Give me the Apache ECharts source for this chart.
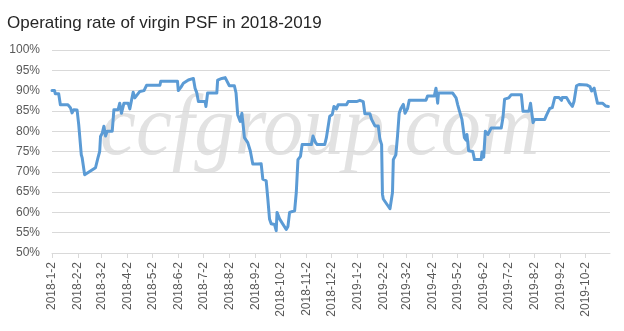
<!DOCTYPE html>
<html>
<head>
<meta charset="utf-8">
<title>Operating rate of virgin PSF in 2018-2019</title>
<script src="https://cdn.jsdelivr.net/npm/echarts@6/dist/echarts.min.js"></script>
<style>
  html, body { margin: 0; padding: 0; background: #ffffff; }
  #chart { width: 624px; height: 331px; }
</style>
</head>
<body>
<div id="chart"></div>
<script>
// Observation dates and operating rate (%) of virgin PSF
const dates = [
  '2018-01-02','2018-01-05','2018-01-06','2018-01-10','2018-01-12','2018-01-21','2018-01-24','2018-01-26','2018-01-28','2018-02-01',
  '2018-02-03','2018-02-06','2018-02-07','2018-02-10','2018-02-23','2018-02-26','2018-02-28','2018-03-01','2018-03-03','2018-03-05',
  '2018-03-07','2018-03-09','2018-03-15','2018-03-17','2018-03-22','2018-03-24','2018-03-26','2018-03-29','2018-04-03','2018-04-05',
  '2018-04-09','2018-04-11','2018-04-17','2018-04-22','2018-04-25','2018-05-11','2018-05-12','2018-06-01','2018-06-02','2018-06-05',
  '2018-06-08','2018-06-14','2018-06-20','2018-06-22','2018-06-24','2018-06-26','2018-07-04','2018-07-05','2018-07-07','2018-07-18',
  '2018-07-19','2018-07-24','2018-07-28','2018-08-02','2018-08-08','2018-08-10','2018-08-12','2018-08-15','2018-08-17','2018-08-19',
  '2018-08-20','2018-08-24','2018-08-27','2018-08-30','2018-09-05','2018-09-09','2018-09-11','2018-09-15','2018-09-17','2018-09-19',
  '2018-09-21','2018-09-25','2018-09-27','2018-09-28','2018-10-01','2018-10-09','2018-10-11','2018-10-13','2018-10-19','2018-10-21',
  '2018-10-23','2018-10-26','2018-10-28','2018-11-08','2018-11-10','2018-11-13','2018-11-15','2018-11-24','2018-11-26','2018-11-30',
  '2018-12-03','2018-12-05','2018-12-08','2018-12-10','2018-12-20','2018-12-22','2019-01-01','2019-01-05','2019-01-09','2019-01-11',
  '2019-01-17','2019-01-19','2019-01-23','2019-01-27','2019-01-29','2019-01-31','2019-02-01','2019-02-02','2019-02-10','2019-02-13',
  '2019-02-14','2019-02-17','2019-02-19','2019-02-21','2019-02-23','2019-02-26','2019-02-28','2019-03-03','2019-03-05','2019-03-25',
  '2019-03-27','2019-04-04','2019-04-06','2019-04-08','2019-04-09','2019-04-26','2019-04-30','2019-05-02','2019-05-04','2019-05-07',
  '2019-05-10','2019-05-12','2019-05-13','2019-05-15','2019-05-20','2019-05-22','2019-05-30','2019-05-31','2019-06-02','2019-06-04',
  '2019-06-07','2019-06-11','2019-06-23','2019-06-25','2019-06-27','2019-07-02','2019-07-05','2019-07-17','2019-07-19','2019-07-26',
  '2019-07-28','2019-07-31','2019-08-02','2019-08-14','2019-08-16','2019-08-18','2019-08-20','2019-08-23','2019-08-26','2019-08-31',
  '2019-09-03','2019-09-04','2019-09-09','2019-09-13','2019-09-16','2019-09-18','2019-09-21','2019-09-24','2019-10-03','2019-10-07',
  '2019-10-09','2019-10-12','2019-10-14','2019-10-16','2019-10-22','2019-10-26','2019-10-29'
];
const rates = [
  90.0, 90.0, 89.2, 89.2, 86.5, 86.5, 85.8, 84.5, 85.3, 85.2,
  81.5, 74.2, 73.5, 69.3, 71.0, 73.5, 75.0, 78.7, 79.5, 81.2,
  78.8, 80.0, 80.0, 85.3, 85.3, 86.9, 84.4, 86.9, 86.9, 85.5,
  89.6, 88.2, 89.8, 90.0, 91.3, 91.3, 92.3, 92.3, 90.0, 90.8,
  91.8, 92.6, 93.0, 90.6, 89.5, 87.3, 87.3, 86.1, 89.4, 89.4,
  92.6, 93.0, 93.2, 91.2, 91.2, 89.4, 84.0, 82.4, 84.4, 80.5,
  78.4, 77.2, 75.2, 71.9, 71.9, 72.0, 68.2, 67.8, 63.3, 58.4,
  57.2, 57.0, 55.5, 60.0, 58.4, 55.8, 56.5, 60.0, 60.4, 64.9,
  73.0, 73.8, 76.7, 76.7, 78.8, 77.2, 76.7, 76.7, 78.4, 83.7,
  84.1, 86.1, 85.5, 86.5, 86.5, 87.3, 87.3, 87.6, 87.3, 84.3,
  84.3, 82.9, 81.3, 81.3, 78.0, 76.7, 64.5, 63.3, 60.9, 64.9,
  73.0, 74.2, 78.8, 84.4, 85.6, 86.6, 84.4, 85.6, 87.6, 87.6,
  88.7, 88.7, 90.6, 86.9, 89.4, 89.4, 88.2, 86.5, 85.0, 82.9,
  78.4, 77.8, 79.2, 75.2, 75.0, 73.0, 73.0, 74.9, 73.6, 80.0,
  79.2, 80.8, 80.8, 83.3, 87.9, 88.2, 89.0, 89.0, 84.9, 84.9,
  86.9, 82.1, 82.9, 82.9, 83.9, 83.9, 85.6, 85.8, 88.3, 88.3,
  87.6, 88.3, 88.3, 86.9, 86.1, 87.3, 91.2, 91.5, 91.4, 91.0,
  89.9, 90.6, 90.6, 86.9, 86.9, 86.2, 86.1
];

// Date axis tick labels (2nd of every month) and axis range
const tickLabels = [
  '2018-1-2','2018-2-2','2018-3-2','2018-4-2','2018-5-2','2018-6-2','2018-7-2','2018-8-2','2018-9-2','2018-10-2','2018-11-2','2018-12-2',
  '2019-1-2','2019-2-2','2019-3-2','2019-4-2','2019-5-2','2019-6-2','2019-7-2','2019-8-2','2019-9-2','2019-10-2'
];
const axisStart = '2018-01-02';
const axisEnd = '2019-10-31';

// Convert a date string to a day count from the start of the axis
function toDay(s) {
  const p = s.split('-').map(Number);
  const a = axisStart.split('-').map(Number);
  return Math.round((Date.UTC(p[0], p[1] - 1, p[2]) - Date.UTC(a[0], a[1] - 1, a[2])) / 86400000);
}

const tickDays = tickLabels.map(toDay);
const labelByDay = {};
tickLabels.forEach((t, i) => { labelByDay[tickDays[i]] = t; });
const seriesData = dates.map((d, i) => [toDay(d), rates[i]]);

const FONT = '"Liberation Sans", Arial, sans-serif';
const chart = echarts.init(document.getElementById('chart'), null, { renderer: 'canvas' });

chart.setOption({
  animation: false,
  backgroundColor: '#ffffff',
  title: {
    text: 'Operating rate of virgin PSF in 2018-2019',
    left: 2,
    top: 10,
    textStyle: { fontFamily: FONT, fontSize: 17, fontWeight: 'normal', color: '#262626' }
  },
  graphic: [{
    type: 'text',
    x: 100,
    y: 131,
    scaleX: 0.94,
    z: -10,
    silent: true,
    style: {
      text: 'ccfgroup.com',
      font: 'italic 86px "Liberation Serif", "DejaVu Serif", serif',
      fill: '#e2e2e2',
      verticalAlign: 'middle',
      align: 'left'
    }
  }],
  grid: { left: 52, right: 14, top: 50, bottom: 78 },
  xAxis: {
    type: 'value',
    min: 0,
    max: toDay(axisEnd),
    splitLine: { show: false },
    axisLine: { show: true, lineStyle: { color: '#d9d9d9', width: 1 } },
    axisTick: { show: true, customValues: tickDays, length: 5, lineStyle: { color: '#d9d9d9' } },
    axisLabel: {
      customValues: tickDays,
      rotate: 90,
      margin: 9,
      fontFamily: FONT,
      fontSize: 12,
      color: '#595959',
      formatter: v => labelByDay[v] || ''
    }
  },
  yAxis: {
    type: 'value',
    min: 50,
    max: 100,
    interval: 5,
    axisLine: { show: false },
    axisTick: { show: false },
    splitLine: { lineStyle: { color: '#d9d9d9', width: 1 } },
    axisLabel: {
      formatter: '{value}%',
      margin: 12,
      fontFamily: FONT,
      fontSize: 12,
      color: '#595959'
    }
  },
  series: [{
    type: 'line',
    data: seriesData,
    showSymbol: false,
    symbol: 'none',
    lineStyle: { color: '#5B9BD5', width: 3, join: 'round', cap: 'round' },
    z: 3
  }]
});
</script>
</body>
</html>
